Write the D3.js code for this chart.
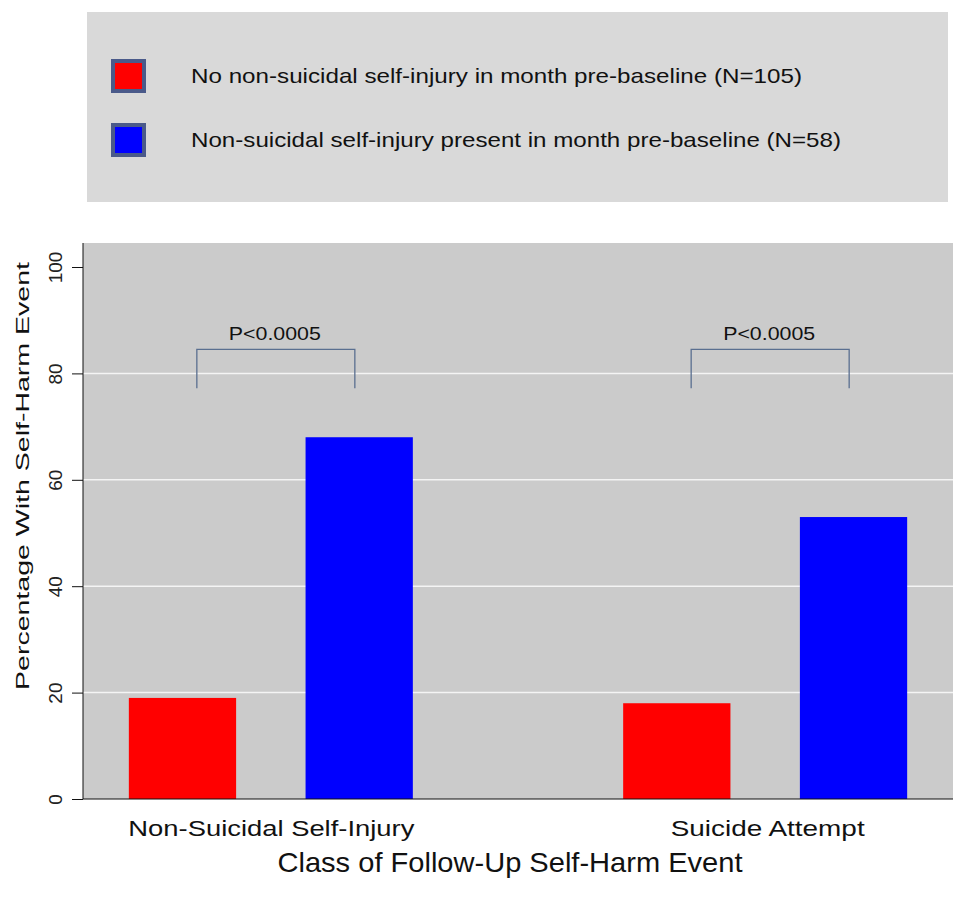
<!DOCTYPE html>
<html><head><meta charset="utf-8">
<script src="https://cdn.jsdelivr.net/npm/d3@7"></script>
<style>body{margin:0;background:#fff}svg{display:block}</style>
</head><body>
<script>
const categories = ["Non-Suicidal Self-Injury", "Suicide Attempt"];
const seriesNames = ["No non-suicidal self-injury in month pre-baseline (N=105)",
                     "Non-suicidal self-injury present in month pre-baseline (N=58)"];
const noNSSI = [19, 18];
const withNSSI = [68, 53];
const pLabels = ["P<0.0005", "P<0.0005"];
const yTicks = [0, 20, 40, 60, 80, 100];
const colors = ["#ff0000", "#0000ff"];

const W = 967, H = 903;
const plot = {l: 83, r: 953, t: 243, b: 799};
const svg = d3.select("body").append("svg").attr("width", W).attr("height", H);
const font = "Liberation Sans, Arial, sans-serif";

// Legend
const legendLen = [611, 650];
svg.append("rect").attr("x", 87).attr("y", 12).attr("width", 861).attr("height", 190).attr("fill", "#d9d9d9");
seriesNames.forEach((s, i) => {
  const y0 = 60 + i * 64;
  svg.append("rect").attr("x", 113).attr("y", y0 + 1).attr("width", 31).attr("height", 30)
    .attr("fill", colors[i]).attr("stroke", "#4a5a8a").attr("stroke-width", 4);
  svg.append("text").attr("x", 191).attr("y", y0 + 23).text(s)
    .attr("font-family", font).attr("font-size", 21).attr("fill", "#111")
    .attr("textLength", legendLen[i]).attr("lengthAdjust", "spacingAndGlyphs");
});

// Plot background
svg.append("rect").attr("x", plot.l).attr("y", plot.t).attr("width", plot.r - plot.l).attr("height", plot.b - plot.t).attr("fill", "#cbcbcb");

const y = d3.scaleLinear().domain([0, 100]).range([plot.b, 267]);
const x = d3.scalePoint().domain(categories).range([plot.l, plot.r]).padding(0.38);
const inner = d3.scaleBand().domain([0, 1]).range([-142, 142]).paddingInner(0.393);

// gridlines
svg.append("g").selectAll("line").data(yTicks.filter(t => t > 0 && t < 100)).join("line")
  .attr("x1", plot.l).attr("x2", plot.r).attr("y1", d => y(d)).attr("y2", d => y(d))
  .attr("stroke", "#f4f4f4").attr("stroke-width", 1.5);

// bars
const data = [];
categories.forEach((c, i) => {
  data.push({c, s: 0, v: noNSSI[i]});
  data.push({c, s: 1, v: withNSSI[i]});
});
svg.append("g").selectAll("rect").data(data).join("rect")
  .attr("x", d => x(d.c) + inner(d.s)).attr("width", inner.bandwidth())
  .attr("y", d => y(d.v)).attr("height", d => y(0) - y(d.v))
  .attr("fill", d => colors[d.s]);

// brackets
categories.forEach((c, i) => {
  const x1 = x(c) - 74, x2 = x(c) + 84;
  const top = y(84.5), bot = y(77.2);
  svg.append("path").attr("d", `M${x1},${bot}V${top}H${x2}V${bot}`)
    .attr("fill", "none").attr("stroke", "#5a6f90").attr("stroke-width", 1.3);
  svg.append("text").attr("x", (x1 + x2) / 2 - 1).attr("y", top - 9).attr("text-anchor", "middle")
    .text(pLabels[i]).attr("font-family", font).attr("font-size", 18).attr("fill", "#111")
    .attr("textLength", 92).attr("lengthAdjust", "spacingAndGlyphs");
});

// y axis
const yAxis = d3.axisLeft(y).tickValues(yTicks).tickSize(11).tickFormat(d3.format("d"));
const gy = svg.append("g").attr("transform", `translate(${plot.l},0)`).call(yAxis);
gy.select(".domain").attr("d", `M0,${plot.t}V${plot.b}`).attr("stroke", "#111");
gy.selectAll(".tick line").attr("stroke", "#111");
gy.selectAll(".tick text").attr("x", 0).attr("y", 0).attr("dx", null).attr("dy", null)
  .attr("text-anchor", "middle").attr("font-family", font).attr("font-size", 19).attr("fill", "#222")
  .attr("transform", `translate(-21,0) rotate(-90)`);

// x axis
svg.append("line").attr("x1", plot.l).attr("x2", plot.r).attr("y1", plot.b).attr("y2", plot.b).attr("stroke", "#111").attr("stroke-width", 1.2);
const catLen = [286, 194];
const xAxis = d3.axisBottom(x).tickSize(0).tickPadding(0);
const gx = svg.append("g").attr("transform", `translate(0,${plot.b})`).call(xAxis);
gx.select(".domain").remove();
gx.selectAll(".tick text").attr("y", 37).attr("dy", null).attr("font-family", font).attr("font-size", 22)
  .attr("fill", "#111").attr("textLength", (d, i) => catLen[i]).attr("lengthAdjust", "spacingAndGlyphs")
  .attr("x", (d, i) => i === 0 ? 0 : 2);

// titles
svg.append("text").attr("x", 510).attr("y", 872).attr("text-anchor", "middle")
  .text("Class of Follow-Up Self-Harm Event").attr("font-family", font).attr("font-size", 28).attr("fill", "#111")
  .attr("textLength", 465).attr("lengthAdjust", "spacingAndGlyphs");
svg.append("text").attr("transform", `translate(29,476) rotate(-90)`).attr("text-anchor", "middle")
  .text("Percentage With Self-Harm Event").attr("font-family", font).attr("font-size", 19).attr("fill", "#111")
  .attr("textLength", 428).attr("lengthAdjust", "spacingAndGlyphs");
</script>
</body></html>
